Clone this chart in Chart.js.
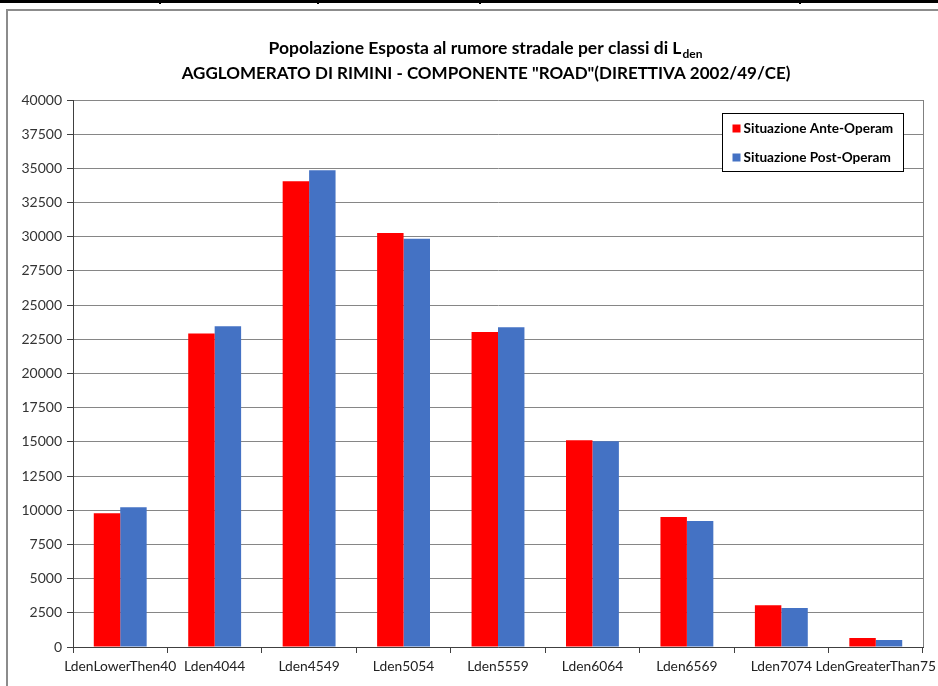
<!DOCTYPE html>
<html>
<head>
<meta charset="utf-8">
<script src="https://cdn.jsdelivr.net/npm/chart.js@4/dist/chart.umd.min.js"></script>
<style>
  html, body { margin: 0; padding: 0; background: #fff; }
  #page { position: relative; width: 938px; height: 686px; overflow: hidden; background: #fff; }
  #rule { position: absolute; left: 0; top: 0; width: 938px; height: 3px; background: #000; }
  .sep { position: absolute; top: 0; width: 2px; height: 4px; background: #000; }
  #frame { position: absolute; left: 6px; top: 9px; width: 1000px; height: 1000px; border: 2px solid #8c8c8c; }
  #wrap { position: absolute; left: 0; top: 0; width: 938px; height: 686px; }
</style>
</head>
<body>
<div id="page">
  <div id="rule"></div>
  <div class="sep" style="left:159px"></div>
  <div class="sep" style="left:317px"></div>
  <div class="sep" style="left:479px"></div>
  <div class="sep" style="left:799px"></div>
  <div id="frame"></div>
  <div id="wrap"><canvas id="chart" width="938" height="686"></canvas></div>
</div>
<script>
// Noise classes (Lden bands)
const categories = [
  'LdenLowerThen40', 'Lden4044', 'Lden4549', 'Lden5054', 'Lden5559',
  'Lden6064', 'Lden6569', 'Lden7074', 'LdenGreaterThan75'
];
// Exposed population, before works
const anteOperam = [9780, 22920, 34050, 30280, 23030, 15120, 9500, 3060, 660];
// Exposed population, after works
const postOperam = [10220, 23450, 34870, 29850, 23380, 15050, 9220, 2860, 510];
const seriesNames = ['Situazione Ante-Operam', 'Situazione Post-Operam'];
const yMin = 0, yMax = 40000, yStep = 2500;

const titleLine1 = 'Popolazione Esposta al rumore stradale per classi di L';
const titleSub = 'den';
const titleLine2 = 'AGGLOMERATO DI RIMINI - COMPONENTE "ROAD"(DIRETTIVA 2002/49/CE)';

const FONT = 'Lato, "Liberation Sans", sans-serif';

// Two-line heading with subscript
const titlePlugin = {
  id: 'twoLineTitle',
  afterDraw(chart) {
    const ctx = chart.ctx;
    ctx.save();
    ctx.fillStyle = '#000';
    ctx.textBaseline = 'alphabetic';
    ctx.textAlign = 'left';
    const cx = 485;
    ctx.font = 'bold 17.5px ' + FONT;
    const w1 = ctx.measureText(titleLine1).width;
    ctx.font = 'bold 12px ' + FONT;
    const ws = ctx.measureText(titleSub).width;
    let x = cx - (w1 + ws) / 2;
    ctx.font = 'bold 17.5px ' + FONT;
    ctx.fillText(titleLine1, x, 54);
    ctx.font = 'bold 12px ' + FONT;
    ctx.fillText(titleSub, x + w1 + 1, 58);
    ctx.font = 'bold 17px ' + FONT;
    ctx.textAlign = 'center';
    ctx.fillText(titleLine2, cx + 1, 79);
    ctx.restore();
  }
};

// Boxed legend inside the plot, top right
const legendPlugin = {
  id: 'boxLegend',
  afterDraw(chart) {
    const ctx = chart.ctx;
    const ds = chart.data.datasets;
    const boxX = 722.5, boxY = 113.5, boxW = 181, boxH = 58;
    ctx.save();
    ctx.fillStyle = '#fff';
    ctx.fillRect(boxX, boxY, boxW, boxH);
    ctx.strokeStyle = '#000';
    ctx.lineWidth = 1;
    ctx.strokeRect(boxX, boxY, boxW, boxH);
    ctx.font = 'bold 13.6px ' + FONT;
    ctx.textBaseline = 'middle';
    ctx.textAlign = 'left';
    ds.forEach((d, i) => {
      const cy = boxY + 15 + i * 29;
      ctx.fillStyle = d.backgroundColor;
      ctx.fillRect(boxX + 10, cy - 4, 8, 8);
      ctx.fillStyle = '#000';
      ctx.fillText(d.label, boxX + 21, cy);
    });
    ctx.restore();
  }
};

// Right border of the plot area
const plotBorder = {
  id: 'plotBorder',
  beforeDatasetsDraw(chart) {
    const { ctx, chartArea } = chart;
    ctx.save();
    ctx.strokeStyle = '#808080';
    ctx.lineWidth = 1;
    ctx.beginPath();
    ctx.moveTo(Math.round(chartArea.right) + 0.5, chartArea.top);
    ctx.lineTo(Math.round(chartArea.right) + 0.5, chartArea.bottom);
    ctx.stroke();
    ctx.restore();
  }
};

new Chart(document.getElementById('chart'), {
  type: 'bar',
  data: {
    labels: categories,
    datasets: [
      { label: seriesNames[0], data: anteOperam, backgroundColor: '#ff0000' },
      { label: seriesNames[1], data: postOperam, backgroundColor: '#4472c4' }
    ]
  },
  options: {
    responsive: false,
    animation: false,
    devicePixelRatio: 1,
    categoryPercentage: 0.56,
    barPercentage: 1,
    layout: { padding: { left: 0, top: 100, right: 15, bottom: 0 } },
    plugins: {
      legend: { display: false },
      title: { display: false },
      tooltip: { enabled: false }
    },
    scales: {
      x: {
        offset: true,
        grid: {
          offset: true,
          drawOnChartArea: false,
          drawTicks: true,
          tickLength: 6,
          tickColor: '#404040'
        },
        border: { color: '#404040', width: 1 },
        ticks: {
          color: '#222',
          font: { family: FONT, size: 13.8 },
          padding: 5,
          maxRotation: 0,
          autoSkip: false
        },
        afterFit(scale) {
          scale.height = 39;
          scale.paddingLeft = 0;
          scale.paddingRight = 0;
        }
      },
      y: {
        min: yMin,
        max: yMax,
        grid: {
          color: '#868686',
          lineWidth: 1,
          drawTicks: true,
          tickLength: 6,
          tickColor: '#404040'
        },
        border: { color: '#404040', width: 1 },
        ticks: {
          stepSize: yStep,
          color: '#333',
          font: { family: FONT, size: 14 },
          padding: 5,
          callback: (v) => String(v)
        },
        afterFit(scale) {
          scale.width = 73;
          scale.paddingTop = 0;
          scale.paddingBottom = 0;
        }
      }
    }
  },
  plugins: [plotBorder, titlePlugin, legendPlugin]
});
</script>
</body>
</html>
